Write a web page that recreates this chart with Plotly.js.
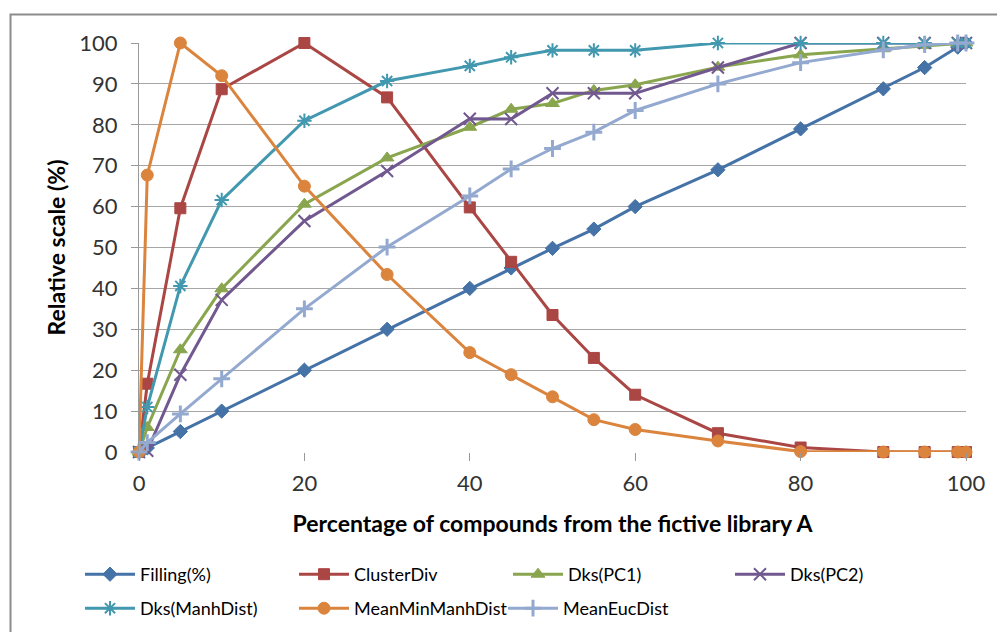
<!DOCTYPE html>
<html>
<head>
<meta charset="utf-8">
<script src="https://cdn.plot.ly/plotly-3.0.1.min.js"></script>
<style>html,body{margin:0;padding:0;background:#fff;}#chart{width:997px;height:632px;}</style>
</head>
<body>
<div id="chart"></div>
<script>
// Percentage of compounds from the fictive library A
const xPct = [0, 1, 5, 10, 20, 30, 40, 45, 50, 55, 60, 70, 80, 90, 95, 99, 100];
const filling     = [0, 1, 5, 10, 20, 30, 40, 45, 49.8, 54.5, 60, 69, 79, 88.8, 94, 99, 100];
const clusterDiv  = [0, 16.7, 59.6, 88.7, 100, 86.7, 59.8, 46.5, 33.5, 23, 14, 4.6, 1.1, 0, 0, 0, 0];
const dksPC1      = [0, 6, 25, 39.9, 60.6, 71.9, 79.4, 83.8, 85.2, 88.4, 89.8, 94.1, 97.1, 98.6, 99.4, 100, 100];
const dksPC2      = [0, 0.3, 18.9, 37.2, 56.5, 68.7, 81.5, 81.4, 87.7, 87.7, 87.7, 94, 100, 100, 100, 100, 100];
const dksManh     = [0, 11, 40.6, 61.6, 81, 90.7, 94.4, 96.5, 98.2, 98.2, 98.2, 100, 100, 100, 100, 100, 100];
const meanMinManh = [0, 67.7, 100, 92, 65, 43.4, 24.3, 18.9, 13.5, 7.9, 5.5, 2.7, 0.1, 0, 0, 0, 0];
const meanEuc     = [0, 2.3, 9.3, 17.9, 35, 50.1, 62.6, 69.2, 74.2, 78.2, 83.5, 90, 95.2, 98.3, 99.6, 100, 100];

const xTicks = [0, 20, 40, 60, 80, 100];
const yTicks = [0, 10, 20, 30, 40, 50, 60, 70, 80, 90, 100];

function tr(name, y, color, symbol, size, legend, lineW) {
  const open = symbol.indexOf('open') >= 0;
  return {
    type: 'scatter', mode: 'lines+markers', name: name, x: xPct, y: y,
    legend: legend, cliponaxis: false,
    line: {color: color, width: 3},
    marker: {symbol: symbol, size: size, color: color,
             line: {color: color, width: open ? (lineW || 2) : 1}}
  };
}

const data = [
  tr('Filling(%)', filling, '#4572A7', 'diamond', 11, 'legend'),
  tr('ClusterDiv', clusterDiv, '#AA4643', 'square', 11, 'legend'),
  tr('Dks(PC1)', dksPC1, '#89A54E', 'triangle-up', 12, 'legend'),
  tr('Dks(PC2)', dksPC2, '#71588F', 'x-thin-open', 12, 'legend4', 2),
  tr('Dks(ManhDist)', dksManh, '#4198AF', 'asterisk-open', 12, 'legend2', 2),
  tr('MeanMinManhDist', meanMinManh, '#DB843D', 'circle', 12, 'legend2'),
  tr('MeanEucDist', meanEuc, '#93A9CF', 'cross-thin-open', 12, 'legend3', 3)
];

const FONT = 'Lato, "Open Sans", sans-serif';
const legBase = {
  orientation: 'h', xref: 'container', yref: 'container',
  xanchor: 'left', yanchor: 'top', bgcolor: 'rgba(0,0,0,0)',
  font: {family: FONT, size: 18, color: '#000'},
  itemwidth: 50, tracegroupgap: 0, itemclick: false
};

const layout = {
  width: 997, height: 632,
  margin: {l: 139, r: 31, t: 42.5, b: 179.5},
  paper_bgcolor: '#fff', plot_bgcolor: '#fff',
  showlegend: true,
  font: {family: FONT, color: '#333'},
  xaxis: {
    range: [0, 100], tickvals: xTicks, ticktext: xTicks.map(String),
    showgrid: false, zeroline: false, showline: false,
    ticks: 'outside', ticklen: 8, tickcolor: '#999', tickwidth: 1,
    ticklabelstandoff: 4,
    tickfont: {family: FONT, size: 22, color: '#333'},
    title: {text: '<b>Percentage of compounds from the fictive library A</b>',
            font: {family: FONT, size: 23, color: '#000'}, standoff: 20},
    fixedrange: true
  },
  yaxis: {
    range: [0, 100], tickvals: yTicks, ticktext: yTicks.map(String),
    showgrid: true, gridcolor: '#A6A6A6', gridwidth: 1,
    zeroline: false, showline: true, linecolor: '#999', linewidth: 1,
    ticks: 'outside', ticklen: 7, tickcolor: '#999', tickwidth: 1,
    ticklabelstandoff: 9,
    tickfont: {family: FONT, size: 22, color: '#333'},
    title: {text: '<b>Relative scale (%)</b>',
            font: {family: FONT, size: 23, color: '#000'}, standoff: 7},
    fixedrange: true
  },
  legend: Object.assign({}, legBase, {x: 80/997, y: 1 - 556/632, entrywidth: 149}),
  legend4: Object.assign({}, legBase, {x: 730/997, y: 1 - 556/632}),
  legend2: Object.assign({}, legBase, {x: 80/997, y: 1 - 590/632, entrywidth: 149}),
  legend3: Object.assign({}, legBase, {x: 503/997, y: 1 - 590/632}),
  shapes: [{
    type: 'rect', xref: 'paper', yref: 'paper', layer: 'below',
    x0: (10.5 - 139) / 827, x1: 1.2, y0: -0.6, y1: (452.5 - 14) / 410,
    line: {color: '#8C8C8C', width: 2}
  }]
};

Plotly.newPlot('chart', data, layout, {staticPlot: true, displayModeBar: false});
</script>
</body>
</html>
